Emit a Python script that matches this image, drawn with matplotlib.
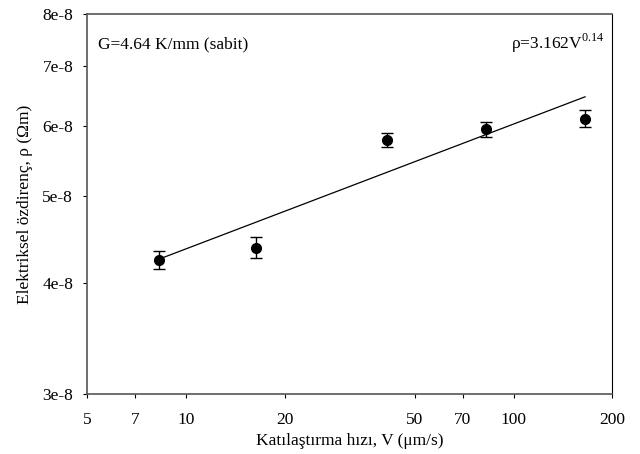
import matplotlib.pyplot as plt
import numpy as np
from matplotlib.ticker import FixedLocator, NullLocator

plt.rcParams['font.family'] = ['Liberation Serif', 'DejaVu Serif']
plt.rcParams['mathtext.fontset'] = 'custom'
plt.rcParams['mathtext.rm'] = 'Liberation Serif'

# ============================
# DATA
# ============================
V = [8.27, 16.4, 41.0, 82.2, 165.0]
rho = [4.245e-8, 4.38e-8, 5.78e-8, 5.94e-8, 6.11e-8]
rho_err = [0.10e-8, 0.12e-8, 0.10e-8, 0.11e-8, 0.13e-8]

fit_coef = 3.162e-8
fit_exp = 0.14

xticks = [5, 7, 10, 20, 50, 70, 100, 200]
yticks = [3e-8, 4e-8, 5e-8, 6e-8, 7e-8, 8e-8]
ytick_labels = ["3e-8", "4e-8", "5e-8", "6e-8", "7e-8", "8e-8"]

# ============================
# PLOT
# ============================
fig = plt.figure(figsize=(6.4, 4.54), dpi=100)
ax = fig.add_axes([0.136, 0.1315, 0.821, 0.8375])

v_fit = np.array([V[0], V[-1]])
ax.plot(v_fit, fit_coef * v_fit ** fit_exp, color="black", lw=0.9)

ax.errorbar(V, rho, yerr=rho_err, fmt="o", color="black", ms=7,
            capsize=4, elinewidth=1, capthick=1)

ax.set_xscale("log")
ax.set_yscale("log")
ax.set_xlim(5, 200)
ax.set_ylim(3e-8, 8e-8)

ax.xaxis.set_major_locator(FixedLocator(xticks))
ax.xaxis.set_minor_locator(NullLocator())
ax.set_xticklabels([str(t) for t in xticks])
ax.yaxis.set_major_locator(FixedLocator(yticks))
ax.yaxis.set_minor_locator(NullLocator())
ax.set_yticklabels(ytick_labels)

ax.tick_params(axis="both", which="major", direction="out", length=3,
               labelsize=12.5)
ax.tick_params(axis="y", pad=7)
ax.tick_params(axis="x", pad=10)

for side in ["top", "left", "bottom"]:
    ax.spines[side].set_color("#555555")
    ax.spines[side].set_linewidth(1.2)
ax.spines["right"].set_color("black")

ax.set_xlabel("Katılaştırma hızı, V (μm/s)", fontsize=12.5, labelpad=3)
ax.set_ylabel("Elektriksel özdirenç, ρ (Ωm)", fontsize=12.5, labelpad=7)

ax.text(0.02, 0.91, "G=4.64 K/mm (sabit)", transform=ax.transAxes,
        fontsize=12.5, ha="left", va="baseline")
ax.text(0.985, 0.91, r"ρ=3.162V$^{\mathrm{0.14}}$", transform=ax.transAxes,
        fontsize=12.5, ha="right", va="baseline")

plt.savefig("out.png", dpi=100)
